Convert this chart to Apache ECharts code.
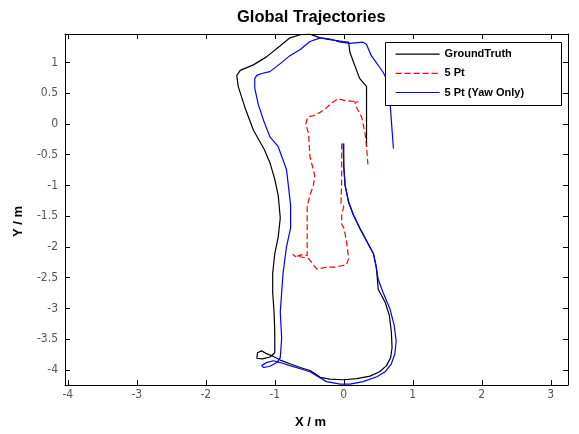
<!DOCTYPE html>
<html>
<head>
<meta charset="utf-8">
<script src="https://cdn.jsdelivr.net/npm/echarts@6/dist/echarts.min.js"></script>
<style>html,body{margin:0;padding:0;background:#fff;}#c{width:579px;height:434px;}</style>
</head>
<body>
<div id="c"></div>
<script>
var xTicks = [-4, -3, -2, -1, 0, 1, 2, 3];
var yTicks = [-4, -3.5, -3, -2.5, -2, -1.5, -1, -0.5, 0, 0.5, 1];

var gtX = [0.00,0.00,0.02,0.07,0.14,0.23,0.33,0.43,0.47,0.48,0.50,0.60,0.66,0.69,0.70,0.68,0.62,0.52,0.38,0.19,-0.01,-0.20,-0.34,-0.42,-0.49,-0.63,-0.78,-0.92,-1.04,-1.13,-1.19,-1.25,-1.26,-1.18,-1.07,-1.00,-1.00,-1.00,-1.01,-1.03,-1.03,-1.00,-0.95,-0.92,-0.95,-1.00,-1.07,-1.15,-1.31,-1.43,-1.53,-1.55,-1.50,-1.31,-1.12,-0.92,-0.78,-0.63,-0.49,-0.34,-0.20,-0.01,0.07,0.09,0.16,0.23,0.33,0.33,0.33];
var gtY = [-0.32,-0.69,-1.00,-1.27,-1.48,-1.69,-1.90,-2.11,-2.32,-2.43,-2.69,-2.90,-3.11,-3.38,-3.64,-3.80,-3.93,-4.03,-4.10,-4.14,-4.16,-4.15,-4.12,-4.06,-4.01,-3.96,-3.90,-3.84,-3.77,-3.73,-3.69,-3.72,-3.81,-3.82,-3.79,-3.72,-3.64,-3.38,-3.06,-2.74,-2.43,-2.11,-1.84,-1.53,-1.16,-0.90,-0.63,-0.42,-0.10,0.26,0.61,0.79,0.87,0.96,1.09,1.27,1.40,1.45,1.46,1.40,1.37,1.34,1.33,1.16,0.95,0.74,0.61,0.21,-0.37];

var pt5X = [-0.03,-0.03,-0.04,0.00,-0.03,-0.03,0.00,0.04,0.07,0.04,-0.05,-0.13,-0.25,-0.39,-0.44,-0.51,-0.63,-0.71,-0.74,-0.69,-0.63,-0.53,-0.53,-0.53,-0.49,-0.44,-0.42,-0.49,-0.51,-0.55,-0.53,-0.51,-0.44,-0.34,-0.25,-0.18,-0.08,0.02,0.11,0.21,0.16,0.19,0.26,0.28,0.31,0.33,0.35];
var pt5Y = [-0.32,-0.90,-1.29,-1.34,-1.48,-1.63,-1.69,-1.90,-2.19,-2.29,-2.31,-2.33,-2.33,-2.36,-2.29,-2.19,-2.16,-2.15,-2.12,-2.16,-2.13,-2.14,-1.69,-1.34,-1.16,-1.00,-0.84,-0.53,-0.16,0.00,0.08,0.12,0.13,0.19,0.26,0.34,0.41,0.38,0.37,0.36,0.35,0.26,0.11,0.00,-0.16,-0.37,-0.66];

var yawX = [-0.01,0.00,0.02,0.07,0.14,0.23,0.33,0.43,0.47,0.50,0.57,0.67,0.73,0.76,0.74,0.69,0.60,0.48,0.28,0.09,-0.05,-0.25,-0.37,-0.49,-0.63,-0.78,-0.92,-1.02,-1.12,-1.19,-1.16,-1.07,-0.97,-0.92,-0.90,-0.92,-0.90,-0.88,-0.83,-0.77,-0.77,-0.83,-0.95,-1.07,-1.16,-1.24,-1.29,-1.29,-1.26,-1.19,-1.07,-0.92,-0.78,-0.63,-0.49,-0.34,-0.20,-0.05,0.09,0.28,0.33,0.40,0.57,0.64,0.67,0.69,0.72];
var yawY = [-0.32,-0.69,-1.00,-1.27,-1.48,-1.69,-1.90,-2.11,-2.32,-2.53,-2.74,-3.01,-3.27,-3.53,-3.74,-3.90,-4.03,-4.11,-4.19,-4.23,-4.23,-4.19,-4.11,-4.03,-3.98,-3.93,-3.88,-3.85,-3.88,-3.93,-3.96,-3.94,-3.88,-3.80,-3.48,-3.06,-2.74,-2.43,-2.00,-1.69,-1.32,-0.74,-0.37,-0.21,0.05,0.32,0.58,0.74,0.79,0.82,0.85,0.98,1.11,1.21,1.34,1.40,1.38,1.33,1.31,1.33,1.29,1.11,0.84,0.69,0.37,0.05,-0.40];

function zip(a, b) { return a.map(function (v, i) { return [v, b[i]]; }); }

var labelFont = { fontSize: 12, color: '#555', fontFamily: 'Liberation Sans Narrow, DejaVu Sans Condensed, Liberation Sans, sans-serif' };
var boldFont = 'Liberation Sans, Arial, sans-serif';
var chart = echarts.init(document.getElementById('c'), null, { renderer: 'canvas' });
var xMin = -4.04, xMax = 3.25, yMin = -4.245, yMax = 1.462;
var lineAx = { show: true, onZero: false, lineStyle: { color: '#000', width: 1 } };

chart.setOption({
  animation: false,
  backgroundColor: '#fff',
  title: {
    text: 'Global Trajectories', left: 232, top: 4,
    textStyle: { fontSize: 16.5, fontWeight: 'bold', color: '#000', fontFamily: boldFont }
  },
  grid: { left: 65, right: 11, top: 34, bottom: 39 },
  xAxis: [{
    type: 'value', min: xMin, max: xMax, position: 'bottom',
    name: 'X / m', nameLocation: 'middle', nameGap: 31,
    nameTextStyle: { fontSize: 13, fontWeight: 'bold', color: '#000', fontFamily: boldFont, padding: [0, 12, 0, 0] },
    axisLine: lineAx,
    axisTick: { show: true, inside: true, length: 5, customValues: xTicks, lineStyle: { color: '#000' } },
    axisLabel: Object.assign({ show: true, margin: 4, customValues: xTicks, formatter: function (v) { return String(v); } }, labelFont),
    splitLine: { show: false }
  }, {
    type: 'value', min: xMin, max: xMax, position: 'top',
    axisLine: lineAx,
    axisTick: { show: true, inside: true, length: 5, customValues: xTicks, lineStyle: { color: '#000' } },
    axisLabel: { show: false }, splitLine: { show: false }
  }],
  yAxis: [{
    type: 'value', min: yMin, max: yMax, position: 'left',
    name: 'Y / m', nameLocation: 'middle', nameGap: 40, nameRotate: 90,
    nameTextStyle: { fontSize: 13, fontWeight: 'bold', color: '#000', fontFamily: boldFont, padding: [0, 24, 0, 0] },
    axisLine: lineAx,
    axisTick: { show: true, inside: true, length: 5, customValues: yTicks, lineStyle: { color: '#000' } },
    axisLabel: Object.assign({ show: true, margin: 7, customValues: yTicks, formatter: function (v) { return String(v); } }, labelFont),
    splitLine: { show: false }
  }, {
    type: 'value', min: yMin, max: yMax, position: 'right',
    axisLine: lineAx,
    axisTick: { show: true, inside: true, length: 5, customValues: yTicks, lineStyle: { color: '#000' } },
    axisLabel: { show: false }, splitLine: { show: false }
  }],
  legend: {
    show: true, orient: 'vertical', left: 395, top: 48.5, z: 10,
    itemWidth: 44, itemHeight: 14, itemGap: 8, padding: 0,
    itemStyle: { opacity: 0, borderWidth: 0 },
    lineStyle: { width: 1.2 },
    textStyle: { fontSize: 11, fontWeight: 'bold', color: '#000', fontFamily: boldFont },
    data: ['GroundTruth', '5 Pt', '5 Pt (Yaw Only)']
  },
  graphic: [{
    type: 'rect', z: 5, left: 385, top: 42,
    shape: { width: 176, height: 63 },
    style: { fill: '#fff', stroke: '#000', lineWidth: 1 }
  }],
  series: [{
    name: 'GroundTruth', type: 'line', xAxisIndex: 0, yAxisIndex: 0,
    data: zip(gtX, gtY), showSymbol: false, symbol: 'none', smooth: false,
    lineStyle: { color: '#000', width: 1.2 }, itemStyle: { color: '#000' }
  }, {
    name: '5 Pt', type: 'line', xAxisIndex: 0, yAxisIndex: 0,
    data: zip(pt5X, pt5Y), showSymbol: false, symbol: 'none',
    lineStyle: { color: '#ff0000', width: 1.2, type: [6, 3] }, itemStyle: { color: '#ff0000' }
  }, {
    name: '5 Pt (Yaw Only)', type: 'line', xAxisIndex: 0, yAxisIndex: 0,
    data: zip(yawX, yawY), showSymbol: false, symbol: 'none',
    lineStyle: { color: '#0000ff', width: 1.2 }, itemStyle: { color: '#0000ff' }
  }]
});
</script>
</body>
</html>
